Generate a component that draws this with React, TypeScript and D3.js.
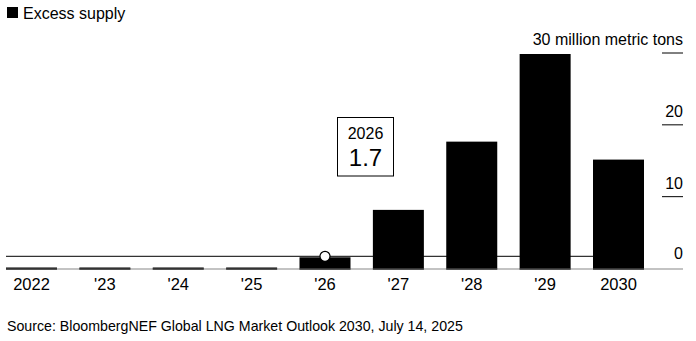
import React from "react";
import * as d3 from "d3";

const categories = ["2022", "'23", "'24", "'25", "'26", "'27", "'28", "'29", "2030"];
const excessSupply = [0, 0, 0, 0, 1.7, 8.3, 17.8, 30, 15.3];
const yTicks = [0, 10, 20, 30];
const highlightIndex = 4;
const highlightYear = "2026";

const W = 696;
const H = 341;
const FONT = "'Liberation Sans', Arial, Helvetica, sans-serif";

export default function App() {
  const x = d3.scaleBand<string>().domain(categories).range([6, 644]).paddingInner(0.305).paddingOuter(0);
  const y = d3.scaleLinear().domain([0, 30]).range([268.5, 53]);
  const hv = excessSupply[highlightIndex];
  const hx = (x(categories[highlightIndex]) ?? 0) + x.bandwidth() / 2;

  return (
    <svg width={W} height={H} style={{ position: "absolute", left: 0, top: 0, background: "#fff" }} fontFamily={FONT}>
      <rect x={0} y={0} width={W} height={H} fill="#fff" />
      {/* legend */}
      <rect x={7} y={7} width={11} height={11} fill="#000" />
      <text x={23} y={18.5} fontSize={16} fill="#000">Excess supply</text>

      {/* y ticks */}
      {yTicks.map((t) => (
        <g key={t}>
          {t > 0 && <line x1={662} x2={683} y1={y(t)} y2={y(t)} stroke="#000" strokeWidth={1} />}
          <text x={683} y={t === 0 ? y(t) - 10 : y(t) - 8} fontSize={16} textAnchor="end" fill="#000">
            {t === 30 ? "30 million metric tons" : String(t)}
          </text>
        </g>
      ))}

      {/* highlight reference line */}
      <line x1={6} x2={644} y1={y(hv)} y2={y(hv)} stroke="#333" strokeWidth={1.2} />

      {/* bars */}
      {excessSupply.map((v, i) => {
        const top = y(v);
        const h = Math.max(2, y(0) - top);
        return (
          <rect key={i} x={x(categories[i])} y={y(0) - h + 1} width={x.bandwidth()} height={h} fill="#000" />
        );
      })}

      {/* bottom axis */}
      <line x1={6} x2={683} y1={y(0) + 0.5} y2={y(0) + 0.5} stroke="#888" strokeWidth={1.2} />
      {excessSupply.map((v, i) => (
        <line key={i} x1={x(categories[i])} x2={(x(categories[i]) ?? 0) + x.bandwidth()} y1={y(0) + 0.5} y2={y(0) + 0.5} stroke="#222" strokeWidth={1.2} />
      ))}

      {/* x labels */}
      {categories.map((c) => (
        <text key={c} x={(x(c) ?? 0) + x.bandwidth() / 2} y={290} fontSize={16.5} textAnchor="middle" fill="#000">{c}</text>
      ))}

      {/* marker */}
      <circle cx={hx} cy={y(hv)} r={5} fill="#fff" stroke="#000" strokeWidth={1.2} />

      {/* annotation */}
      <rect x={337.5} y={117.5} width={56} height={58.5} fill="#fff" stroke="#000" strokeWidth={1} />
      <text x={365.5} y={139} fontSize={16} textAnchor="middle" fill="#000">{highlightYear}</text>
      <text x={365.5} y={166} fontSize={24} textAnchor="middle" fill="#000">{hv.toFixed(1)}</text>

      {/* source */}
      <text x={7} y={331} fontSize={14.2} fill="#000">Source: BloombergNEF Global LNG Market Outlook 2030, July 14, 2025</text>
    </svg>
  );
}
